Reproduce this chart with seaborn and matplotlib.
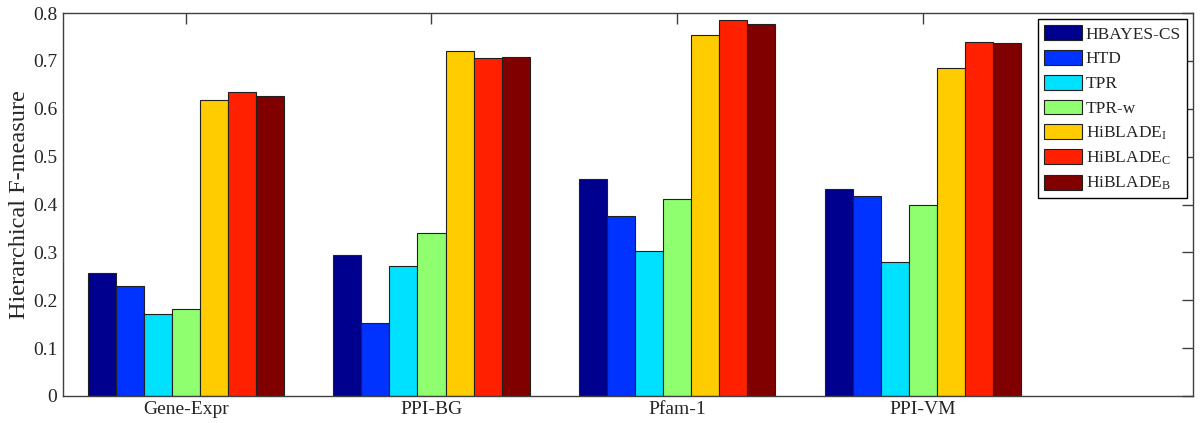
import matplotlib
matplotlib.use("Agg")
import numpy as np
import pandas as pd
import matplotlib.pyplot as plt
import seaborn as sns

# data
datasets = ['Gene-Expr', 'PPI-BG', 'Pfam-1', 'PPI-VM']
methods = ['HBAYES-CS', 'HTD', 'TPR', 'TPR-w',
           'HiBLADE$_\\mathrm{I}$', 'HiBLADE$_\\mathrm{C}$', 'HiBLADE$_\\mathrm{B}$']

hbayes_cs = [0.257, 0.294, 0.453, 0.433]
htd = [0.230, 0.153, 0.377, 0.417]
tpr = [0.172, 0.271, 0.303, 0.279]
tpr_w = [0.181, 0.341, 0.411, 0.400]
hiblade_i = [0.618, 0.721, 0.755, 0.686]
hiblade_c = [0.635, 0.707, 0.786, 0.739]
hiblade_b = [0.627, 0.709, 0.777, 0.737]

colors = ['#00008F', '#0033FF', '#00E0FF', '#8FFF6F', '#FFCC00', '#FF2000', '#800000']

series = [hbayes_cs, htd, tpr, tpr_w, hiblade_i, hiblade_c, hiblade_b]
df = pd.DataFrame({
    'Dataset': np.repeat([datasets], len(methods), axis=0).ravel(),
    'Method': np.repeat(methods, len(datasets)),
    'F': np.concatenate(series),
})

sns.set_style('white')
plt.rcParams['font.family'] = ['Liberation Serif', 'DejaVu Serif']
plt.rcParams['mathtext.fontset'] = 'custom'
plt.rcParams['mathtext.rm'] = 'Liberation Serif'
plt.rcParams['mathtext.it'] = 'Liberation Serif:italic'

fig = plt.figure(figsize=(12.01, 4.23), dpi=100)
ax = fig.add_axes([0.0525, 0.064, 0.9408, 0.905])

sns.barplot(data=df, x='Dataset', y='F', hue='Method', order=datasets,
            hue_order=methods, palette=colors, saturation=1, width=0.8, gap=0,
            edgecolor='#202020', linewidth=0.8, ax=ax)

ax.set_xlim(-0.5, 4.1)
ax.set_ylim(0, 0.8)
ax.set_yticks(np.arange(0, 0.81, 0.1))
ax.set_yticklabels(['0', '0.1', '0.2', '0.3', '0.4', '0.5', '0.6', '0.7', '0.8'])
ax.set_xlabel('')
ax.set_ylabel('Hierarchical F-measure', fontsize=17.5, labelpad=2)
ax.tick_params(axis='both', direction='in', length=8, width=1, color='#404040',
               labelsize=14, top=True, right=True, pad=4)
for s in ax.spines.values():
    s.set_color('#404040')
    s.set_linewidth(1)

handles, labels = ax.get_legend_handles_labels()
ax.legend(handles, labels, loc='upper right', fontsize=12.5, frameon=True,
          fancybox=False, edgecolor='black', framealpha=1,
          handlelength=2.2, handleheight=0.95, handletextpad=0.2,
          borderaxespad=0.35, labelspacing=0.42, borderpad=0.35)

fig.savefig('out.png', dpi=100)
